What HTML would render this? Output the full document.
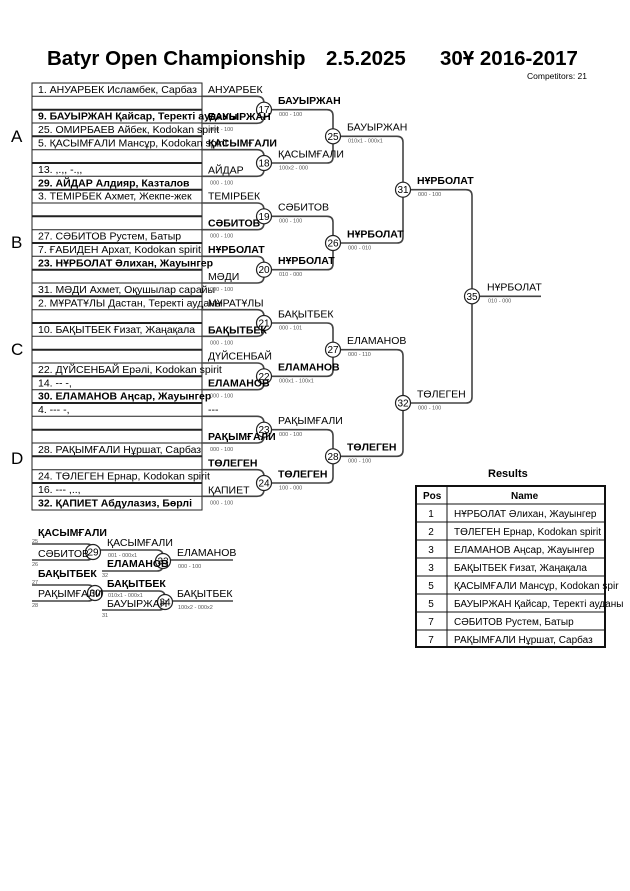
<!DOCTYPE html>
<html><head><meta charset="utf-8"><style>
html,body{margin:0;padding:0;background:#fff;}
svg{display:block;font-family:"Liberation Sans",Arial,sans-serif;}
.n{font-size:10.5px;fill:#000;}
.b{font-weight:bold;}
.s{font-size:5.5px;fill:#555;}
.ln{fill:none;stroke:#444;stroke-width:1.6;}
.c{fill:#fff;stroke:#222;stroke-width:1.2;}
.cn{font-size:10px;text-anchor:middle;}
</style></head><body>
<svg width="630" height="891" viewBox="0 0 630 891" xmlns="http://www.w3.org/2000/svg">
<text x="47" y="65" style="font-size:20.5px;font-weight:bold">Batyr Open Championship</text>
<text x="326" y="65" style="font-size:20.5px;font-weight:bold">2.5.2025</text>
<text x="440" y="65" style="font-size:20.5px;font-weight:bold">30Ұ 2016-2017</text>
<text x="527" y="79" style="font-size:8.5px">Competitors: 21</text>

<g stroke="#222" fill="none">
<rect x="32" y="83" width="170" height="427" stroke-width="1"/>
<path stroke-width="1" d="M32,96.3H202M32,109.7H202M32,123H202M32,136.3H202M32,149.7H202M32,163H202M32,176.3H202M32,189.7H202M32,203H202M32,216.3H202M32,229.7H202M32,243H202M32,256.3H202M32,269.7H202M32,283H202M32,296.3H202M32,309.7H202M32,323H202M32,336.3H202M32,349.7H202M32,363H202M32,376.3H202M32,389.7H202M32,403H202M32,416.3H202M32,429.7H202M32,443H202M32,456.3H202M32,469.7H202M32,483H202M32,496.3H202"/>
<path stroke-width="2" d="M32,109.7H202M32,136.3H202M32,163H202M32,189.7H202M32,216.3H202M32,243H202M32,269.7H202M32,296.3H202M32,323H202M32,349.7H202M32,376.3H202M32,403H202M32,429.7H202M32,456.3H202M32,483H202"/>
</g>
<g class="n">
<text x="38" y="93">1. АНУАРБЕК Исламбек, Сарбаз</text>
<text x="38" y="119.5" class="b">9. БАУЫРЖАН Қайсар, Теректі ауданы</text>
<text x="38" y="133">25. ОМИРБАЕВ Айбек, Kodokan spirit</text>
<text x="38" y="146.3">5. ҚАСЫМҒАЛИ Мансұр, Kodokan spirit</text>
<text x="38" y="173">13. ,.,, -.,,</text>
<text x="38" y="186.3" class="b">29. АЙДАР Алдияр, Казталов</text>
<text x="38" y="199.7">3. ТЕМІРБЕК Ахмет, Жекпе-жек</text>
<text x="38" y="239.7">27. СӘБИТОВ Рустем, Батыр</text>
<text x="38" y="253">7. ҒАБИДЕН Архат, Kodokan spirit</text>
<text x="38" y="266.3" class="b">23. НҰРБОЛАТ Әлихан, Жауынгер</text>
<text x="38" y="293">31. МӘДИ Ахмет, Оқушылар сарайы</text>
<text x="38" y="306.3">2. МҰРАТҰЛЫ Дастан, Теректі ауданы</text>
<text x="38" y="333">10. БАҚЫТБЕК Ғизат, Жаңақала</text>
<text x="38" y="373">22. ДҮЙСЕНБАЙ Ерәлі, Kodokan spirit</text>
<text x="38" y="386.3">14. -- -,</text>
<text x="38" y="399.7" class="b">30. ЕЛАМАНОВ Аңсар, Жауынгер</text>
<text x="38" y="413">4. --- -,</text>
<text x="38" y="453">28. РАҚЫМҒАЛИ Нұршат, Сарбаз</text>
<text x="38" y="479.7">24. ТӨЛЕГЕН Ернар, Kodokan spirit</text>
<text x="38" y="493">16. --- ,..,</text>
<text x="38" y="506.3" class="b">32. ҚАПИЕТ Абдулазиз, Бөрлі</text>
</g>
<g style="font-size:17px">
<text x="11" y="142">A</text><text x="11" y="248">B</text><text x="11" y="355">C</text><text x="11" y="464">D</text>
</g>

<g class="ln">
<path d="M202,96.3H257q7,0 7,7V116.3q0,7 -7,7H202"/>
<path d="M202,149.7H257q7,0 7,7V169.3q0,7 -7,7H202"/>
<path d="M202,203H257q7,0 7,7V222.7q0,7 -7,7H202"/>
<path d="M202,256.3H257q7,0 7,7V276q0,7 -7,7H202"/>
<path d="M202,309.7H257q7,0 7,7V329.3q0,7 -7,7H202"/>
<path d="M202,363H257q7,0 7,7V382.7q0,7 -7,7H202"/>
<path d="M202,416.3H257q7,0 7,7V436q0,7 -7,7H202"/>
<path d="M202,469.7H257q7,0 7,7V489.3q0,7 -7,7H202"/>
<path d="M271,109.7H327q6,0 6,6V157q0,6 -6,6H271"/>
<path d="M271,216.3H327q6,0 6,6V263.7q0,6 -6,6H271"/>
<path d="M271,323H327q6,0 6,6V370.3q0,6 -6,6H271"/>
<path d="M271,429.7H327q6,0 6,6V477q0,6 -6,6H271"/>
<path d="M340,136.3H397q6,0 6,6V237q0,6 -6,6H340"/>
<path d="M340,349.7H397q6,0 6,6V450.3q0,6 -6,6H340"/>
<path d="M410,189.7H466q6,0 6,6V397q0,6 -6,6H410"/>
<path d="M479,296.3H541"/>
</g>
<g>
<circle class="c" cx="264" cy="109.7" r="7.5"/><circle class="c" cx="264" cy="163" r="7.5"/>
<circle class="c" cx="264" cy="216.3" r="7.5"/><circle class="c" cx="264" cy="269.7" r="7.5"/>
<circle class="c" cx="264" cy="323" r="7.5"/><circle class="c" cx="264" cy="376.3" r="7.5"/>
<circle class="c" cx="264" cy="429.7" r="7.5"/><circle class="c" cx="264" cy="483" r="7.5"/>
<circle class="c" cx="333" cy="136.3" r="7.5"/><circle class="c" cx="333" cy="243" r="7.5"/>
<circle class="c" cx="333" cy="349.7" r="7.5"/><circle class="c" cx="333" cy="456.3" r="7.5"/>
<circle class="c" cx="403" cy="189.7" r="7.5"/><circle class="c" cx="403" cy="403" r="7.5"/>
<circle class="c" cx="472" cy="296.3" r="7.5"/>
</g>
<g class="cn">
<text x="264" y="113.2">17</text><text x="264" y="166.5">18</text><text x="264" y="219.8">19</text><text x="264" y="273.2">20</text>
<text x="264" y="326.5">21</text><text x="264" y="379.8">22</text><text x="264" y="433.2">23</text><text x="264" y="486.5">24</text>
<text x="333" y="139.8">25</text><text x="333" y="246.5">26</text><text x="333" y="353.2">27</text><text x="333" y="459.8">28</text>
<text x="403" y="193.2">31</text><text x="403" y="406.5">32</text><text x="472" y="299.8">35</text>
</g>

<g class="n">
<text x="208" y="93">АНУАРБЕК</text><text x="208" y="120" class="b">БАУЫРЖАН</text>
<text x="208" y="146.3" class="b">ҚАСЫМҒАЛИ</text><text x="208" y="173.3">АЙДАР</text>
<text x="208" y="199.7">ТЕМІРБЕК</text><text x="208" y="226.7" class="b">СӘБИТОВ</text>
<text x="208" y="253" class="b">НҰРБОЛАТ</text><text x="208" y="280">МӘДИ</text>
<text x="208" y="306.3">МҰРАТҰЛЫ</text><text x="208" y="333.3" class="b">БАҚЫТБЕК</text>
<text x="208" y="359.7">ДҮЙСЕНБАЙ</text><text x="208" y="386.7" class="b">ЕЛАМАНОВ</text>
<text x="208" y="413">---</text><text x="208" y="440" class="b">РАҚЫМҒАЛИ</text>
<text x="208" y="466.3" class="b">ТӨЛЕГЕН</text><text x="208" y="493.3">ҚАПИЕТ</text>
<text x="278" y="104" class="b">БАУЫРЖАН</text><text x="278" y="157.3">ҚАСЫМҒАЛИ</text>
<text x="278" y="210.7">СӘБИТОВ</text><text x="278" y="264" class="b">НҰРБОЛАТ</text>
<text x="278" y="317.3">БАҚЫТБЕК</text><text x="278" y="370.7" class="b">ЕЛАМАНОВ</text>
<text x="278" y="424">РАҚЫМҒАЛИ</text><text x="278" y="477.3" class="b">ТӨЛЕГЕН</text>
<text x="347" y="130.6">БАУЫРЖАН</text><text x="347" y="237.3" class="b">НҰРБОЛАТ</text>
<text x="347" y="344">ЕЛАМАНОВ</text><text x="347" y="450.6" class="b">ТӨЛЕГЕН</text>
<text x="417" y="184" class="b">НҰРБОЛАТ</text><text x="417" y="397.3">ТӨЛЕГЕН</text>
<text x="487" y="290.6">НҰРБОЛАТ</text>
</g>
<g class="s">
<text x="210" y="131">000 - 100</text><text x="210" y="184.3">000 - 100</text><text x="210" y="237.7">000 - 100</text><text x="210" y="291">000 - 100</text>
<text x="210" y="344.3">000 - 100</text><text x="210" y="397.7">000 - 100</text><text x="210" y="451">000 - 100</text><text x="210" y="504.3">000 - 100</text>
<text x="279" y="116">000 - 100</text><text x="279" y="169.3">100x2 - 000</text><text x="279" y="222.7">000 - 100</text><text x="279" y="276">010 - 000</text>
<text x="279" y="329.3">000 - 101</text><text x="279" y="382.7">000x1 - 100x1</text><text x="279" y="436">000 - 100</text><text x="279" y="489.3">100 - 000</text>
<text x="348" y="142.6">010x1 - 000x1</text><text x="348" y="249.3">000 - 010</text><text x="348" y="356">000 - 110</text><text x="348" y="462.6">000 - 100</text>
<text x="418" y="196">000 - 100</text><text x="418" y="409.3">000 - 100</text><text x="488" y="302.6">010 - 000</text>
</g>

<g class="ln">
<path d="M32,544H87q6,0 6,6V554q0,6 -6,6H32"/>
<path d="M32,585H88q6,0 6,6V595q0,6 -6,6H32"/>
<path d="M100,550H157q6,0 6,6V565q0,6 -6,6H102"/>
<path d="M102,591H159q6,0 6,6V604q0,6 -6,6H102"/>
<path d="M170,560H233"/>
<path d="M172,601H233"/>
</g>
<circle class="c" cx="93" cy="552" r="7.5"/><circle class="c" cx="95" cy="593" r="7.5"/>
<circle class="c" cx="163" cy="561" r="7.5"/><circle class="c" cx="165" cy="602" r="7.5"/>
<g class="cn"><text x="93" y="555.5">29</text><text x="95" y="596.5">30</text><text x="163" y="564.5">33</text><text x="165" y="605.5">34</text></g>
<g class="n">
<text x="38" y="536" class="b">ҚАСЫМҒАЛИ</text><text x="38" y="557">СӘБИТОВ</text>
<text x="38" y="577" class="b">БАҚЫТБЕК</text><text x="38" y="597">РАҚЫМҒАЛИ</text>
<text x="107" y="546">ҚАСЫМҒАЛИ</text><text x="107" y="567" class="b">ЕЛАМАНОВ</text>
<text x="107" y="587" class="b">БАҚЫТБЕК</text><text x="107" y="607">БАУЫРЖАН</text>
<text x="177" y="556">ЕЛАМАНОВ</text><text x="177" y="597">БАҚЫТБЕК</text>
</g>
<g class="s">
<text x="32" y="543">25</text><text x="32" y="566">26</text><text x="32" y="584">27</text><text x="32" y="607">28</text>
<text x="102" y="577">32</text><text x="102" y="617">31</text>
<text x="108" y="557">001 - 000x1</text><text x="108" y="597">010x1 - 000x1</text>
<text x="178" y="568">000 - 100</text><text x="178" y="609">100x2 - 000x2</text>
</g>

<text x="488" y="477" style="font-size:11px;font-weight:bold">Results</text>
<g stroke="#111" fill="none">
<rect x="416" y="486" width="189" height="161" stroke-width="2"/>
<path stroke-width="1" d="M416,504H605M416,522H605M416,540H605M416,558H605M416,576H605M416,594H605M416,612H605M416,630H605M447,486V647"/>
</g>
<g style="font-size:10px">
<text x="423" y="499" class="b">Pos</text><text x="511" y="499" class="b">Name</text>
<g text-anchor="middle"><text x="431" y="517">1</text><text x="431" y="535">2</text><text x="431" y="553">3</text><text x="431" y="571">3</text><text x="431" y="589">5</text><text x="431" y="607">5</text><text x="431" y="625">7</text><text x="431" y="643">7</text></g>
<text x="454" y="517">НҰРБОЛАТ Әлихан, Жауынгер</text>
<text x="454" y="535">ТӨЛЕГЕН Ернар, Kodokan spirit</text>
<text x="454" y="553">ЕЛАМАНОВ Аңсар, Жауынгер</text>
<text x="454" y="571">БАҚЫТБЕК Ғизат, Жаңақала</text>
<text x="454" y="589">ҚАСЫМҒАЛИ Мансұр, Kodokan spir</text>
<text x="454" y="607">БАУЫРЖАН Қайсар, Теректі ауданы</text>
<text x="454" y="625">СӘБИТОВ Рустем, Батыр</text>
<text x="454" y="643">РАҚЫМҒАЛИ Нұршат, Сарбаз</text>
</g>
</svg>
</body></html>
